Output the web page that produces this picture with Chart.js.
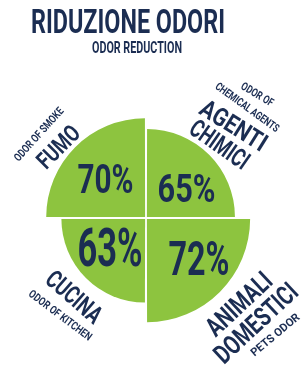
<!DOCTYPE html>
<html>
<head>
<meta charset="utf-8">
<script src="https://cdn.jsdelivr.net/npm/chart.js"></script>
<style>
    html, body { margin: 0; padding: 0; background: #fff; }
    #caixa { width: 304px; height: 375px; }
</style>
</head>
<body>
<div id="caixa"><canvas id="grafico"></canvas></div>
<script>
//entrada

const titulo = 'RIDUZIONE ODORI'
const subtitulo = 'ODOR REDUCTION'
const categorias = ['AGENTI CHIMICI', 'ANIMALI DOMESTICI', 'CUCINA', 'FUMO']
const valores = [65, 72, 63, 70]
const rotulos = [
    ['ODOR OF', 'CHEMICAL AGENTS', 'AGENTI', 'CHIMICI'],
    ['ANIMALI', 'DOMESTICI', 'PETS ODOR'],
    ['CUCINA', 'ODOR OF KITCHEN'],
    ['ODOR OF SMOKE', 'FUMO']
]

const verde = '#8dc43f'
const azul = '#1b2d52'

// posicao de cada linha em relacao ao centro: dx, dy, giro, altura, largura
const layout_rotulos = [
    [[111.5, -124, 31, 8, 36], [101.5, -111, 36, 8, 76], [88, -93, 32, 18, 74], [74, -74, 35, 18, 67]],
    [[92.5, 85.5, -43, 19, 80], [109.5, 104.5, -43, 19, 104], [129, 116.5, -40, 8, 60]],
    [[-71.5, 78.5, 41, 18, 66], [-85.5, 97, 37, 8, 76]],
    [[-107.5, -84, -48, 8, 68], [-88, -71.5, -45, 17, 50]]
]
const layout_pct = [[40.5, -30, 28, 58], [53, 39.5, 34, 61], [-36, 29, 38, 65], [-40.5, -39.5, 29, 56]]

/*========================================================*/

function escreve(ctx, texto, x, y, giro, altura, largura){
    let tamanho = altura / 0.711
    ctx.save()
    ctx.font = 'bold ' + tamanho + 'px Roboto'
    let medida = ctx.measureText(texto).width
    ctx.translate(x, y)
    ctx.rotate(giro * Math.PI / 180)
    ctx.scale(largura / medida, 1)
    ctx.fillStyle = azul
    ctx.textAlign = 'center'
    ctx.textBaseline = 'alphabetic'
    ctx.fillText(texto, 0, altura / 2)
    ctx.restore()
}

const textos = {
    id: 'textos',
    afterDraw(chart){
        const ctx = chart.ctx
        const arco = chart.getDatasetMeta(0).data[0]
        const cx = arco.x
        const cy = arco.y

        escreve(ctx, titulo, 128, 21.5, 0, 23, 194)
        escreve(ctx, subtitulo, 137, 47, 0, 12, 90)

        for(let i = 0; i < valores.length; i++){
            let p = layout_pct[i]
            escreve(ctx, valores[i] + '%', cx + p[0], cy + p[1], 0, p[2], p[3])

            for(let j = 0; j < rotulos[i].length; j++){
                let l = layout_rotulos[i][j]
                escreve(ctx, rotulos[i][j], cx + l[0], cy + l[1], l[2], l[3], l[4])
            }
        }
    }
}

/*========================================================*/

    //saida

var grafico = new Chart(document.getElementById('grafico'), {
    type: 'polarArea',
    data: {
        labels: categorias,
        datasets: [{
            data: valores,
            backgroundColor: verde,
            borderWidth: 0,
            offset: 5
        }]
    },
    options: {
        responsive: true,
        maintainAspectRatio: false,
        animation: false,
        events: [],
        layout: {
            padding: { left: 44, top: 116, right: 56, bottom: 55 }
        },
        scales: {
            r: {
                display: false,
                min: 25,
                max: 72
            }
        },
        plugins: {
            legend: { display: false },
            tooltip: { enabled: false }
        }
    },
    plugins: [textos]
});
</script>
</body>
</html>
